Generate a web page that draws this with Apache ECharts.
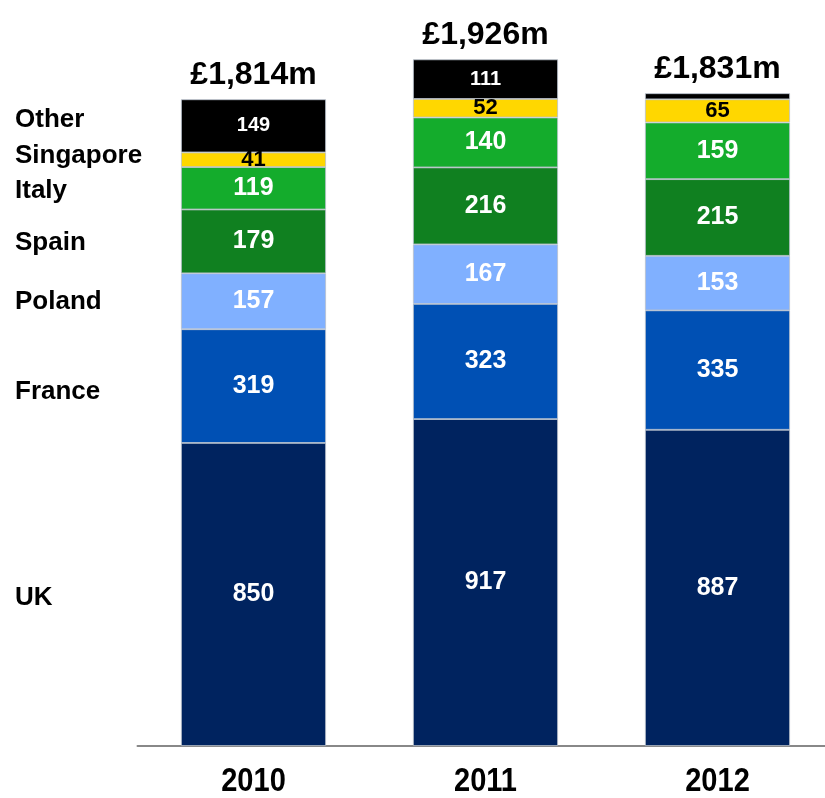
<!DOCTYPE html>
<html>
<head>
<meta charset="utf-8">
<script src="https://cdn.jsdelivr.net/npm/echarts@6/dist/echarts.min.js"></script>
<style>
  html, body { margin: 0; padding: 0; background: #fff; }
  #chart { width: 825px; height: 798px; }
</style>
</head>
<body>
<div id="chart"></div>
<script>
const years = ["2010", "2011", "2012"];
const countries = ["UK", "France", "Poland", "Spain", "Italy", "Singapore", "Other"];
const uk = [850, 917, 887];
const france = [319, 323, 335];
const poland = [157, 167, 153];
const spain = [179, 216, 215];
const italy = [119, 140, 159];
const singapore = [41, 52, 65];
const other = [149, 111, 17];
const totals = [1814, 1926, 1831];

const seriesValues = [uk, france, poland, spain, italy, singapore, other];
const colors = ["#00235f", "#0050b4", "#80b0ff", "#108020", "#14ac2c", "#ffd700", "#000000"];
// names on the left sit beside the 2010 segments; the thin ones are nudged
const nameNudge = [0, 3, -2, -2, 0, -7, -9];

const FONT = "'Liberation Sans', Arial, sans-serif";
const chart = echarts.init(document.getElementById("chart"));

const stacked = countries.map((name, i) => ({
  name: name,
  type: "bar",
  stack: "total",
  barWidth: 145,
  data: seriesValues[i],
  itemStyle: { color: colors[i], borderColor: "#b8c0cc", borderWidth: 0.8 },
  label: {
    show: true,
    position: "inside",
    fontFamily: FONT,
    fontWeight: "bold",
    fontSize: name === "Other" ? 20 : name === "Singapore" ? 22 : 25,
    color: name === "Singapore" ? "#000" : "#fff",
    formatter: (p) => (p.value < 30 ? "" : p.value)
  }
}));

chart.setOption({
  animation: false,
  grid: { left: 137.5, width: 696, top: 33, bottom: 52, outerBoundsMode: "none", containLabel: false },
  xAxis: {
    type: "category",
    data: years,
    axisTick: { show: false },
    axisLine: { lineStyle: { color: "#888", width: 2 } },
    axisLabel: { show: false }
  },
  yAxis: { type: "value", min: 0, max: 2000, show: false, splitLine: { show: false } },
  series: stacked.concat([{
    name: "Total",
    type: "bar",
    barWidth: 145,
    barGap: "-100%",
    z: 1,
    silent: true,
    data: totals,
    itemStyle: { color: "transparent" },
    label: {
      show: true,
      position: "top",
      distance: 8,
      fontFamily: FONT,
      fontWeight: "bold",
      fontSize: 32,
      color: "#000",
      formatter: (p) => "£" + p.value.toLocaleString("en-GB") + "m"
    }
  }])
});

// country names down the left, level with the 2010 segments
let base = 0;
const graphics = countries.map((name, i) => {
  const mid = base + seriesValues[i][0] / 2;
  base += seriesValues[i][0];
  const y = chart.convertToPixel({ yAxisIndex: 0 }, mid) + nameNudge[i];
  return {
    type: "text",
    left: 15,
    top: y - 10,
    style: { text: name, fontFamily: FONT, fontWeight: "bold", fontSize: 26, fill: "#000" }
  };
});

// year labels under the axis, in a condensed bold face
years.forEach((yr, i) => {
  const x = chart.convertToPixel({ xAxisIndex: 0 }, i);
  graphics.push({
    type: "text",
    x: x,
    y: 782,
    scaleX: 0.88,
    style: {
      text: yr, fontFamily: FONT, fontWeight: "bold", fontSize: 33, fill: "#000",
      align: "center", verticalAlign: "middle"
    }
  });
});
chart.setOption({ graphic: graphics });
</script>
</body>
</html>
